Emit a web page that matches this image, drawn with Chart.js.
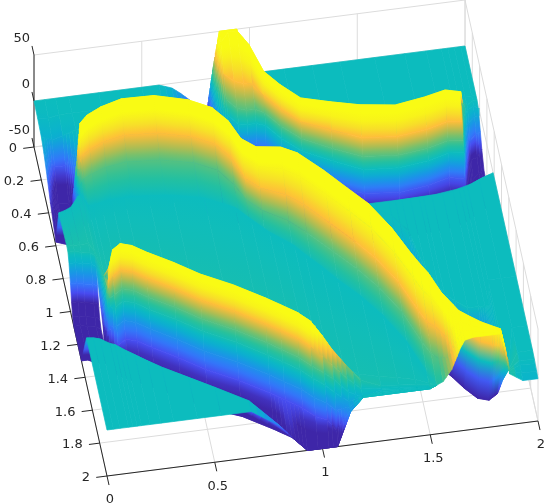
<!DOCTYPE html>
<html>
<head>
<meta charset="utf-8">
<script src="https://cdn.jsdelivr.net/npm/chart.js@4/dist/chart.umd.min.js"></script>
<style>
  html, body { margin: 0; padding: 0; background: #fff; }
  #wrap { width: 560px; height: 504px; }
</style>
</head>
<body>
<div id="wrap"><canvas id="chart"></canvas></div>
<script>
// tick labels
const xTicks = [0, 0.5, 1, 1.5, 2];
const xTickLabels = ['0', '0.5', '1', '1.5', '2'];
const yTicks = [0, 0.2, 0.4, 0.6, 0.8, 1, 1.2, 1.4, 1.6, 1.8, 2];
const yTickLabels = ['0', '0.2', '0.4', '0.6', '0.8', '1', '1.2', '1.4', '1.6', '1.8', '2'];
const zTicks = [-50, 0, 50];
const zTickLabels = ['-50', '0', '50'];

// back sheet and left trough: columns at backX, rows at backY
const backX = [0, 0.05, 0.1, 0.16, 0.3, 0.5, 0.58, 0.64, 0.68, 0.72, 0.76, 0.8];
const backY = [0, 0.1, 0.2, 0.27, 0.36, 0.45, 0.6, 0.68];
const backZ = [
  [0, 0, 0, 0, 0, 0, 0, -5, -12, -20, -32, -40],
  [-1, -2, 0, 0, 0, 0, -2, -8, -15, -25, -35, -42],
  [-3, -8, -5, 0, 0, 0, -3, -10, -18, -28, -38, -45],
  [-8, -25, -25, -5, -5, -5, -5, -10, -20, -30, -40, -48],
  [-18, -48, -50, -10, -5, -5, -5, -10, -20, -30, -40, -48],
  [-30, -50, -50, -10, -5, -5, -5, -10, -20, -30, -40, -48],
  [-46, -50, -50, -10, -5, -5, -5, -10, -20, -30, -40, -48],
  [0, 0, -20, -10, -5, -5, -5, -10, -20, -30, -40, -48]
];

// far ridge, read along each column
const farX = [0.8, 0.83, 0.86, 0.9, 0.94, 0.98, 1.02, 1.08, 1.16, 1.29, 1.42, 1.58, 1.72, 1.82, 1.89, 1.92, 1.95, 1.98, 2];
const farY = [
  [0, 0, 0, 0, 0, 0, 0, 0, 0, 0, 0, 0, 0, 0, 0, 0, 0, 0, 0],
  [0, 0, 0, 0, 0, 0.05, 0.15, 0.25, 0.35, 0.4, 0.44, 0.47, 0.44, 0.42, 0.43, 0.3, 0.3, 0.3, 0.3],
  [0.02, 0.03, 0.04, 0.01, 0.01, 0.1, 0.27, 0.36, 0.455, 0.5, 0.54, 0.568, 0.543, 0.517, 0.528, 0.4, 0.35, 0.33, 0.33],
  [0.1, 0.1, 0.12, 0.17, 0.19, 0.2, 0.28, 0.37, 0.46, 0.53, 0.6, 0.62, 0.6, 0.57, 0.58, 0.44, 0.37, 0.35, 0.36],
  [0.18, 0.18, 0.19, 0.25, 0.27, 0.27, 0.3, 0.39, 0.48, 0.56, 0.63, 0.65, 0.63, 0.6, 0.61, 0.47, 0.4, 0.38, 0.38],
  [0.22, 0.22, 0.23, 0.29, 0.3, 0.3, 0.32, 0.41, 0.5, 0.58, 0.655, 0.67, 0.65, 0.62, 0.63, 0.5, 0.43, 0.42, 0.42],
  [0.28, 0.28, 0.28, 0.33, 0.33, 0.33, 0.34, 0.43, 0.52, 0.6, 0.66, 0.68, 0.66, 0.63, 0.65, 0.55, 0.46, 0.45, 0.46],
  [0.32, 0.32, 0.32, 0.37, 0.37, 0.37, 0.38, 0.47, 0.56, 0.64, 0.7, 0.72, 0.7, 0.68, 0.7, 0.6, 0.52, 0.5, 0.52],
  [0.6, 0.6, 0.6, 0.6, 0.6, 0.6, 0.6, 0.65, 0.72, 0.78, 0.82, 0.81, 0.8, 0.79, 0.76, 0.74, 0.72, 0.7, 0.7],
  [0.7, 0.7, 0.7, 0.7, 0.7, 0.7, 0.7, 0.72, 0.78, 0.84, 0.87, 0.86, 0.855, 0.84, 0.82, 0.805, 0.79, 0.78, 0.77]
];
const farZ = [
  [-40, 9, 50, 50, 50, 0, 0, 0, 0, 0, 0, 0, 0, 0, 0, 0, 0, 0, 0],
  [-40, 9, 50, 50, 50, 0, 0, 0, 0, 0, 0, 0, 0, 0, 0, 0, 0, 0, 0],
  [-40, 10, 45, 50, 50, 50, 50, 50, 50, 50, 50, 50, 50, 50, 48, 10, 0, 0, 0],
  [-42, 0, 25, 25, 25, 25, 25, 25, 25, 25, 25, 25, 25, 25, 25, 5, -2, -2, -3],
  [-45, -10, 10, 10, 10, 10, 10, 10, 10, 10, 10, 10, 10, 10, 10, -5, -10, -8, -8],
  [-48, -15, 0, 0, 0, 0, 0, 0, 0, 0, 0, 0, 0, 0, 0, -10, -25, -20, -18],
  [-50, -25, -25, -25, -25, -25, -25, -25, -25, -25, -25, -25, -25, -25, -25, -28, -40, -40, -30],
  [-50, -50, -40, -40, -40, -40, -40, -40, -40, -40, -40, -40, -40, -40, -40, -50, -50, -48, -42],
  [-50, -50, -50, -50, -50, -50, -50, -50, -50, -50, -50, -50, -50, -50, -50, -50, -50, -50, -50],
  [0, 0, 0, 0, 0, 0, 0, 0, 0, 0, 0, 0, 0, 0, 0, 0, 0, 0, -4]
];

// big middle ridge
const midX = [0.1, 0.12, 0.14, 0.18, 0.25, 0.35, 0.5, 0.65, 0.75, 0.81, 0.85, 0.91, 1.02, 1.09, 1.19, 1.28, 1.36, 1.44, 1.5, 1.53, 1.56, 1.6, 1.64, 1.66, 1.7, 1.75, 1.8, 1.83, 1.85, 1.87, 1.93, 2];
const midY = [
  [0.38, 0.42, 0.42, 0.38, 0.33, 0.3, 0.3, 0.34, 0.4, 0.48, 0.55, 0.6, 0.62, 0.67, 0.75, 0.86, 0.86, 0.86, 0.86, 0.86, 0.86, 0.86, 0.86, 0.86, 0.86, 0.86, 0.85, 0.84, 0.84, 0.83, 0.8, 0.77],
  [0.42, 0.44, 0.425, 0.385, 0.34, 0.3, 0.305, 0.35, 0.41, 0.5, 0.6, 0.66, 0.68, 0.72, 0.8, 0.87, 0.88, 0.9, 0.95, 1, 1.05, 1.3, 1.4, 1.45, 1.5, 1.55, 1.55, 1.55, 1.55, 1.4, 1.4, 1.4],
  [0.43, 0.46, 0.43, 0.39, 0.345, 0.31, 0.31, 0.36, 0.42, 0.51, 0.62, 0.68, 0.7, 0.75, 0.87, 0.9, 0.92, 1.04, 1.2, 1.27, 1.33, 1.62, 1.65, 1.68, 1.75, 1.82, 1.84, 1.89, 1.92, 1.95, 1.7, 1.7],
  [0.43, 0.47, 0.437, 0.395, 0.357, 0.325, 0.33, 0.381, 0.445, 0.535, 0.65, 0.71, 0.73, 0.777, 0.898, 1.022, 1.13, 1.29, 1.449, 1.52, 1.585, 1.71, 1.79, 1.83, 1.87, 1.915, 1.95, 1.97, 1.97, 1.97, 1.85, 1.85],
  [0.5, 0.5, 0.464, 0.427, 0.39, 0.363, 0.37, 0.42, 0.483, 0.57, 0.69, 0.76, 0.796, 0.854, 0.98, 1.1, 1.214, 1.376, 1.54, 1.62, 1.67, 1.77, 1.83, 1.86, 1.9, 1.93, 1.96, 1.975, 1.975, 1.975, 1.9, 1.9],
  [0.53, 0.52, 0.495, 0.464, 0.43, 0.407, 0.418, 0.464, 0.527, 0.62, 0.75, 0.82, 0.88, 0.95, 1.08, 1.2, 1.32, 1.48, 1.66, 1.74, 1.77, 1.84, 1.88, 1.9, 1.93, 1.95, 1.97, 1.98, 1.98, 1.98, 1.92, 1.92],
  [0.56, 0.55, 0.55, 0.53, 0.5, 0.483, 0.5, 0.54, 0.6, 0.7, 0.8, 0.87, 0.954, 1.037, 1.17, 1.29, 1.416, 1.58, 1.77, 1.85, 1.88, 1.92, 1.94, 1.95, 1.96, 1.98, 1.985, 1.99, 1.99, 1.99, 1.96, 1.96],
  [0.6, 0.585, 0.66, 0.66, 0.64, 0.64, 0.667, 0.7, 0.76, 0.82, 0.875, 0.95, 1.06, 1.16, 1.3, 1.42, 1.55, 1.72, 1.92, 2, 2, 2, 2, 2, 2, 2, 2, 2, 2, 2, 2, 2]
];
const midZ = [
  [-50, -20, -30, 0, 0, 0, 0, 0, 0, 0, 0, 0, 0, 0, 0, 0, 0, 0, 0, 0, 0, 0, 0, 0, 0, 0, 0, 0, 0, 0, 0, 0],
  [-50, -10, -10, 0, 0, 0, 0, 0, 0, 0, 0, 0, 0, 0, 0, 0, 0, 0, 0, 0, 0, 0, 0, 0, 0, 0, 0, 0, 0, 0, 0, 0],
  [-50, 0, 10, -10, -10, -10, -10, -10, -10, -10, -10, -10, -10, -8, -8, -6, -6, -8, -8, -10, -15, -50, -50, -50, -50, -50, -50, -35, -15, 0, 0, 0],
  [-50, 15, 50, 50, 50, 50, 50, 50, 50, 50, 50, 50, 50, 50, 50, 50, 50, 50, 50, 50, 50, 50, 50, 50, 50, 50, 50, 50, 30, 5, 0, 0],
  [-50, 12, 38, 38, 38, 38, 38, 38, 38, 38, 38, 38, 38, 38, 38, 38, 38, 38, 38, 38, 38, 38, 48, 50, 50, 50, 50, 50, 30, 5, 0, -1],
  [-50, 8, 25, 25, 25, 25, 25, 25, 25, 25, 25, 25, 25, 25, 25, 25, 25, 25, 25, 25, 25, 25, 45, 50, 50, 50, 50, 50, 30, 5, -1, -2],
  [-40, 3, 10, 10, 10, 10, 10, 10, 10, 10, 10, 10, 10, 10, 10, 10, 10, 10, 10, 10, 10, 17, 42, 49, 50, 50, 50, 50, 30, 5, -3, -3],
  [0, 0, 0, 0, 0, 0, 0, 0, 0, 0, 0, 0, 0, 0, 0, 0, 0, 0, 0, 3, 6, 18, 40, 48, 50, 50, 50, 50, 30, 5, -4, -4]
];

// left end of the valley, in front of the middle plateau
const leftX = [0, 0.03, 0.06, 0.1, 0.12];
const leftY = [
  [0.68, 0.67, 0.655, 0.6, 0.585],
  [0.9, 0.9, 0.9, 0.9, 0.95],
  [0.93, 0.93, 0.94, 0.95, 0.97],
  [0.96, 0.96, 0.97, 0.98, 1],
  [1, 1, 1.01, 1.02, 1.03],
  [1.03, 1.03, 1.04, 1.05, 1.06],
  [1.06, 1.06, 1.07, 1.08, 1.09],
  [1.09, 1.09, 1.1, 1.11, 1.13],
  [1.3, 1.3, 1.32, 1.33, 1.34],
  [1.44, 1.445, 1.457, 1.49, 1.5],
  [2, 2, 2, 2, 2]
];
const leftZ = [
  [0, 0, 0, 0, 0],
  [3, 3, 3, 3, 3],
  [2, 2, 2, 2, 2],
  [-5, -5, -5, -5, -5],
  [-20, -20, -20, -20, -20],
  [-35, -35, -35, -35, -35],
  [-45, -45, -45, -45, -45],
  [-50, -50, -50, -50, -50],
  [-50, -50, -50, -50, -50],
  [0, 0, 0, 0, 0],
  [0, 0, 0, 0, 0]
];

// near ridge, the valley and the front sheet
const nearX = [0.12, 0.14, 0.16, 0.2, 0.25, 0.31, 0.42, 0.53, 0.67, 0.8, 0.86, 0.93, 0.98, 1.03, 1.07, 1.13, 1.19, 1.28, 1.36, 1.44, 1.5, 1.53];
const nearY = [
  [0.585, 0.66, 0.66, 0.65, 0.64, 0.64, 0.645, 0.66, 0.7, 0.78, 0.86, 0.95, 1, 1.05, 1.11, 1.19, 1.28, 1.4, 1.53, 1.7, 1.9, 2],
  [0.95, 1.1, 1.15, 1.12, 1.14, 1.19, 1.27, 1.36, 1.45, 1.55, 1.6, 1.66, 1.72, 1.75, 1.78, 1.82, 1.87, 1.9, 1.92, 1.94, 1.97, 2],
  [1.2, 1.23, 1.21, 1.18, 1.2, 1.25, 1.33, 1.42, 1.51, 1.61, 1.66, 1.72, 1.78, 1.81, 1.845, 1.88, 1.925, 1.95, 1.96, 1.97, 1.98, 2],
  [1.21, 1.24, 1.23, 1.2, 1.22, 1.27, 1.35, 1.44, 1.53, 1.63, 1.68, 1.74, 1.8, 1.84, 1.87, 1.91, 1.95, 1.96, 1.97, 1.98, 1.99, 2],
  [1.22, 1.25, 1.26, 1.23, 1.25, 1.3, 1.38, 1.47, 1.56, 1.66, 1.71, 1.77, 1.83, 1.87, 1.9, 1.94, 1.97, 1.97, 1.98, 1.985, 1.99, 2],
  [1.24, 1.26, 1.29, 1.26, 1.28, 1.33, 1.41, 1.5, 1.59, 1.69, 1.74, 1.8, 1.86, 1.9, 1.93, 1.96, 1.98, 1.98, 1.985, 1.99, 1.995, 2],
  [1.26, 1.28, 1.32, 1.29, 1.31, 1.36, 1.44, 1.53, 1.62, 1.72, 1.77, 1.83, 1.89, 1.93, 1.96, 1.98, 1.99, 1.99, 1.99, 1.995, 1.995, 2],
  [1.3, 1.3, 1.36, 1.33, 1.35, 1.4, 1.48, 1.57, 1.66, 1.76, 1.81, 1.87, 1.93, 1.96, 1.98, 1.99, 1.995, 1.995, 1.995, 1.998, 1.998, 2],
  [1.34, 1.4, 1.42, 1.45, 1.48, 1.52, 1.6, 1.68, 1.75, 1.85, 2, 2, 2, 2, 2, 2, 2, 2, 2, 2, 2, 2],
  [1.5, 1.52, 1.54, 1.575, 1.62, 1.67, 1.75, 1.83, 1.935, 2, 2, 2, 2, 2, 2, 2, 2, 2, 2, 2, 2, 2],
  [2, 2, 2, 2, 2, 2, 2, 2, 2, 2, 2, 2, 2, 2, 2, 2, 2, 2, 2, 2, 2, 2]
];
const nearZ = [
  [0, 0, 0, 0, 0, 0, 0, 0, 0, 0, 0, 0, 0, 0, 0, 0, 0, 0, 0, 0, 0, 3],
  [3, 3, 3, 3, 3, 3, 3, 3, 3, 3, 3, 3, 3, 2, 2, 2, 2, 2, 2, 1, 1, 3],
  [-40, 35, 50, 50, 50, 50, 50, 50, 50, 50, 50, 50, 50, 38, 28, 15, 5, 1, 1, 1, 1, 3],
  [-45, 20, 25, 25, 25, 25, 25, 25, 25, 25, 25, 25, 25, 20, 15, 6, 0, 0, 0, 0, 0, 3],
  [-50, 5, 10, 10, 10, 10, 10, 10, 10, 10, 10, 10, 10, 8, 5, -3, -5, 0, 0, 0, 0, 3],
  [-50, -3, 2, 2, 2, 2, 2, 2, 2, 2, 2, 2, 2, 0, -4, -10, -2, 0, 0, 0, 0, 3],
  [-50, -20, -14, -14, -14, -14, -14, -14, -14, -14, -14, -14, -14, -14, -18, -12, 0, 0, 0, 0, 0, 3],
  [-50, -34, -27, -27, -27, -27, -27, -27, -27, -27, -27, -27, -27, -27, -36, -14, 0, 0, 0, 0, 0, 3],
  [-50, -50, -50, -50, -50, -50, -50, -50, -50, -50, -34, -50, -50, -50, -50, -14, 0, 0, 0, 0, 0, 3],
  [0, 0, 0, 0, 0, 0, 0, 0, 0, -19, -34, -50, -50, -50, -50, -14, 0, 0, 0, 0, 0, 3],
  [0, 0, 0, 0, 0, 0, 0, 0, 0, -19, -34, -50, -50, -50, -50, -14, 0, 0, 0, 0, 0, 3]
];

// colour map: height, r, g, b
const parula = [
  [-35, 62, 38, 168], [-27.5, 71, 75, 240], [-20, 50, 120, 250], [-12.5, 25, 150, 230],
  [-5, 10, 178, 205], [0, 12, 188, 190], [6, 40, 193, 155], [14, 125, 192, 105],
  [19, 190, 188, 75], [25, 254, 190, 58], [32.5, 246, 228, 38], [40, 249, 251, 20]
];

function zColor(z) {
  if (z <= parula[0][0]) return 'rgb(62,38,168)';
  for (let i = 1; i < parula.length; i++) {
    const a = parula[i - 1], b = parula[i];
    if (z <= b[0]) {
      const t = (z - a[0]) / (b[0] - a[0]);
      const c = [1, 2, 3].map(k => Math.round(a[k] + (b[k] - a[k]) * t));
      return 'rgb(' + c.join(',') + ')';
    }
  }
  return 'rgb(249,251,20)';
}

// view of the box, gives coordinates for the two chart scales
function project(x, y, z) {
  return { x: 34 + 215.5 * x + 36.5 * y, y: 101 - 27.5 * x + 164.5 * y - 0.92 * z };
}

const datasets = [];

function addLine(a, b, color, width) {
  datasets.push({
    data: [project(a[0], a[1], a[2]), project(b[0], b[1], b[2])],
    borderColor: color, borderWidth: width, fill: false
  });
}

// gradient runs square to the two row edges so colours line up across columns
function quadFill(chart, p, zA, zB) {
  const sx = chart.scales.x, sy = chart.scales.y;
  const px = p.map(q => [sx.getPixelForValue(q.x), sy.getPixelForValue(q.y)]);
  const x0 = (px[0][0] + px[1][0]) / 2, y0 = (px[0][1] + px[1][1]) / 2;
  const x1 = (px[2][0] + px[3][0]) / 2, y1 = (px[2][1] + px[3][1]) / 2;
  const ex = px[1][0] - px[0][0] + px[2][0] - px[3][0];
  const ey = px[1][1] - px[0][1] + px[2][1] - px[3][1];
  const len = Math.hypot(ex, ey);
  if (!isFinite(x0 + y0 + x1 + y1) || len < 0.1 || Math.abs(zA - zB) < 0.5) {
    return zColor((zA + zB) / 2);
  }
  const nx = -ey / len, ny = ex / len;
  const d = (x1 - x0) * nx + (y1 - y0) * ny;
  if (Math.abs(d) < 0.5) return zColor((zA + zB) / 2);
  const g = chart.ctx.createLinearGradient(x0, y0, x0 + nx * d, y0 + ny * d);
  for (let k = 0; k <= 4; k++) g.addColorStop(k / 4, zColor(zA + (zB - zA) * k / 4));
  return g;
}

function addCell(c0, c1, c2, c3) {
  const p = [project(...c0), project(...c1), project(...c2), project(...c3)];
  const zA = (c0[2] + c1[2]) / 2;
  const zB = (c2[2] + c3[2]) / 2;
  const paint = ctx => quadFill(ctx.chart, p, zA, zB);
  datasets.push({
    data: [p[0], p[1], p[2], p[3], p[0]],
    fill: 'shape',
    backgroundColor: paint,
    borderColor: paint,
    borderWidth: 0.7
  });
}

function mix(a, b, t) {
  return [a[0] + (b[0] - a[0]) * t, a[1] + (b[1] - a[1]) * t, a[2] + (b[2] - a[2]) * t];
}

function addMesh(xs, ys, zs, fromRow, toRow) {
  for (let r = fromRow; r < toRow; r++) {
    for (let c = 0; c < xs.length - 1; c++) {
      const a = [xs[c], ys[r][c], zs[r][c]];
      const b = [xs[c + 1], ys[r][c + 1], zs[r][c + 1]];
      const d = [xs[c], ys[r + 1][c], zs[r + 1][c]];
      const e = [xs[c + 1], ys[r + 1][c + 1], zs[r + 1][c + 1]];
      // cells that change height across the column get split so the shading follows
      const steps = Math.min(10, Math.max(1, Math.ceil(Math.max(Math.abs(a[2] - b[2]), Math.abs(d[2] - e[2])) / 5)));
      for (let s = 0; s < steps; s++) {
        addCell(mix(a, b, s / steps), mix(a, b, (s + 1) / steps), mix(d, e, (s + 1) / steps), mix(d, e, s / steps));
      }
    }
  }
}

// grid on the back walls and floor
const gridColor = '#dcdcdc';
zTicks.forEach(z => {
  addLine([0, 0, z], [2, 0, z], gridColor, 1);
  addLine([2, 0, z], [2, 2, z], gridColor, 1);
});
xTicks.forEach(x => {
  addLine([x, 0, -50], [x, 0, 50], gridColor, 1);
  addLine([x, 0, -50], [x, 2, -50], gridColor, 1);
});
yTicks.forEach(y => {
  addLine([2, y, -50], [2, y, 50], gridColor, 1);
  addLine([0, y, -50], [2, y, -50], gridColor, 1);
});

// axes with their ticks
const axisColor = '#262626';
addLine([0, 0, -50], [0, 0, 50], axisColor, 1);
addLine([0, 0, -50], [0, 2, -50], axisColor, 1);
addLine([0, 2, -50], [2, 2, -50], axisColor, 1);
xTicks.forEach(x => addLine([x, 2, -50], [x, 2.055, -50], axisColor, 1));
yTicks.forEach(y => addLine([0, y, -50], [-0.05, y, -50], axisColor, 1));
zTicks.forEach(z => addLine([0, 0, z], [0, -0.055, z], axisColor, 1));

addMesh(backX, backY.map(y => backX.map(() => y)), backZ, 0, backY.length - 1);
addMesh(farX, farY, farZ, 0, farY.length - 1);
addMesh(midX, midY, midZ, 0, midY.length - 1);
addMesh(leftX, leftY, leftZ, 0, 9);
addMesh(nearX, nearY, nearZ, 0, nearY.length - 1);
addMesh(leftX, leftY, leftZ, 9, 10);

// first dataset is painted last, so flip the back to front list
datasets.reverse();

const tickText = {
  id: 'tickText',
  afterDraw(chart) {
    const { ctx, scales } = chart;
    const put = (pt, text, dx, dy, align) => {
      ctx.textAlign = align;
      ctx.fillText(text, scales.x.getPixelForValue(pt.x) + dx, scales.y.getPixelForValue(pt.y) + dy);
    };
    ctx.save();
    ctx.font = '13px "DejaVu Sans"';
    ctx.fillStyle = '#262626';
    ctx.textBaseline = 'middle';
    xTicks.forEach((x, i) => put(project(x, 2, -50), xTickLabels[i], 3, 24, 'center'));
    yTicks.forEach((y, i) => put(project(0, y, -50), yTickLabels[i], -17, 2, 'right'));
    zTicks.forEach((z, i) => put(project(0, 0, z), zTickLabels[i], -4, -16, 'right'));
    ctx.restore();
  }
};

new Chart(document.getElementById('chart'), {
  type: 'scatter',
  data: { datasets: datasets },
  plugins: [tickText],
  options: {
    responsive: true,
    maintainAspectRatio: false,
    animation: false,
    events: [],
    layout: { padding: 0 },
    showLine: true,
    elements: { point: { radius: 0 }, line: { tension: 0 } },
    plugins: {
      legend: { display: false },
      tooltip: { enabled: false },
      filler: { drawTime: 'beforeDatasetDraw' }
    },
    scales: {
      x: { type: 'linear', min: 0, max: 560, display: false },
      y: { type: 'linear', min: 0, max: 504, reverse: true, display: false }
    }
  }
});
</script>
</body>
</html>
